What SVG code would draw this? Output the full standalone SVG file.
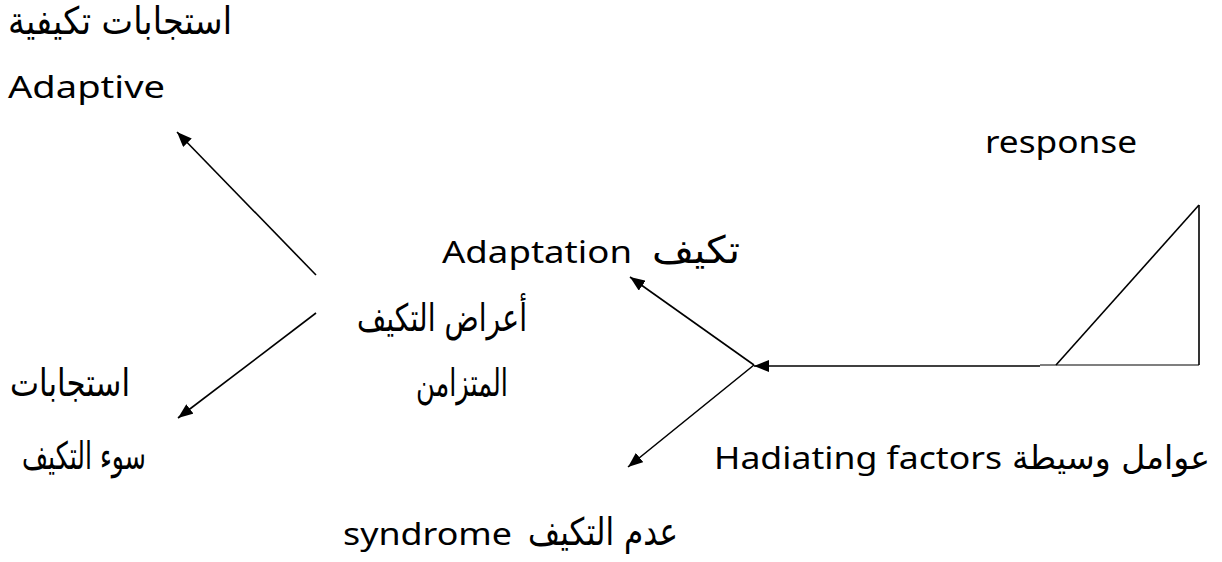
<svg xmlns="http://www.w3.org/2000/svg" width="1222" height="562" viewBox="0 0 1222 562">
  <style>
    .en { font-family: "Noto Sans", "Open Sans", "Liberation Sans", sans-serif; font-size: 31px; fill: #000; }
    .ar { font-family: "DejaVu Sans", "Noto Sans", sans-serif; font-size: 38px; fill: #000; }
    .ar.sm { font-size: 33px; }
    .ln { stroke: #000; stroke-width: 1.6; fill: none; }
    .thin { stroke: #000; stroke-width: 1.2; fill: none; }
  </style>
  <defs>
    <marker id="head" markerUnits="userSpaceOnUse" markerWidth="16" markerHeight="12" refX="15" refY="6" orient="auto">
      <path d="M0,0 L15,6 L0,12 z" fill="#000"/>
    </marker>
  </defs>

  <rect width="1222" height="562" fill="#fff"/>

  <!-- connectors -->
  <g id="connectors">
    <line class="ln" x1="316" y1="275" x2="177" y2="132" marker-end="url(#head)"/>
    <line class="ln" x1="316" y1="313" x2="178" y2="418" marker-end="url(#head)"/>
    <line class="ln" x1="754" y1="365" x2="630" y2="277" marker-end="url(#head)"/>
    <line class="ln" x1="754" y1="365" x2="628" y2="467" marker-end="url(#head)"/>
    <line class="ln" x1="1040" y1="366" x2="754" y2="366" stroke-width="2" marker-end="url(#head)"/>
  </g>

  <!-- triangle on the right -->
  <g id="triangle">
    <line class="thin" x1="1040" y1="365" x2="1199" y2="365"/>
    <line class="ln" x1="1056" y1="365" x2="1199" y2="205"/>
    <line class="ln" x1="1199" y1="205" x2="1199" y2="365"/>
  </g>

  <g id="adaptive-responses">
    <text class="ar" x="8" y="34" textLength="224" lengthAdjust="spacingAndGlyphs">استجابات  تكيفية</text>
    <text class="en" x="8" y="98" textLength="157" lengthAdjust="spacingAndGlyphs">Adaptive</text>
  </g>

  <g id="response">
    <text class="en" x="985" y="153" textLength="152" lengthAdjust="spacingAndGlyphs">response</text>
  </g>

  <g id="adaptation">
    <text class="en" x="442" y="263" textLength="190" lengthAdjust="spacingAndGlyphs">Adaptation</text>
    <text class="ar" x="652" y="263" textLength="88" lengthAdjust="spacingAndGlyphs">تكيف</text>
  </g>

  <g id="syndrome-center">
    <text class="ar" x="357" y="331" textLength="170" lengthAdjust="spacingAndGlyphs">أعراض التكيف</text>
    <text class="ar" x="416" y="396" textLength="92" lengthAdjust="spacingAndGlyphs">المتزامن</text>
  </g>

  <g id="maladaptive-responses">
    <text class="ar" x="10" y="396" textLength="120" lengthAdjust="spacingAndGlyphs">استجابات</text>
    <text class="ar" x="22" y="469" textLength="124" lengthAdjust="spacingAndGlyphs">سوء التكيف</text>
  </g>

  <g id="mediating-factors">
    <text class="en" x="714" y="469" textLength="288" lengthAdjust="spacingAndGlyphs">Hadiating factors</text>
    <text class="ar sm" x="1012" y="469" textLength="198" lengthAdjust="spacingAndGlyphs">عوامل وسيطة</text>
  </g>

  <g id="non-adaptation">
    <text class="en" x="343" y="545" textLength="169" lengthAdjust="spacingAndGlyphs">syndrome</text>
    <text class="ar" x="528" y="545" textLength="150" lengthAdjust="spacingAndGlyphs">عدم التكيف</text>
  </g>
</svg>
